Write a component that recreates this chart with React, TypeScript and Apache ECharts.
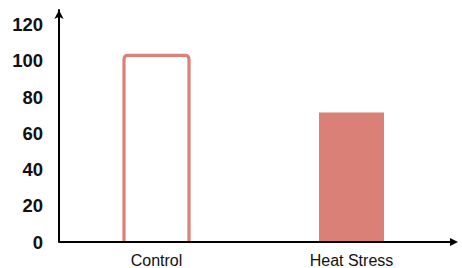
import React, { useEffect, useRef } from "react";
import * as echarts from "echarts";

const categories = ["Control", "Heat Stress"];
const values = [103, 71.5];
const yTicks = [0, 20, 40, 60, 80, 100, 120];

export default function App() {
  const ref = useRef<HTMLDivElement>(null);
  useEffect(() => {
    if (!ref.current) return;
    const chart = echarts.init(ref.current, null, { renderer: "svg" });
    const axisY = 242;
    const axisX = 59;
    const barW = 65;
    chart.setOption({
      animation: false,
      grid: { left: axisX, right: 13, top: 10, bottom: 268 - axisY },
      graphic: [
        { type: "line", shape: { x1: axisX, y1: axisY, x2: 452, y2: axisY }, style: { stroke: "#000", lineWidth: 2 }, z: 10 },
        { type: "polygon", shape: { points: [[450, axisY - 4], [458, axisY], [450, axisY + 4]] }, style: { fill: "#000" }, z: 10 },
      ],
      xAxis: {
        type: "category",
        data: categories,
        axisLine: { show: false },
        axisTick: { show: false },
        axisLabel: { color: "#111", fontSize: 16, fontFamily: "Liberation Sans, Arial, sans-serif", margin: 10 },
      },
      yAxis: {
        type: "value",
        min: 0,
        max: 128,
        interval: 20,
        axisLine: { show: true, lineStyle: { color: "#000", width: 2 }, symbol: ["none", "arrow"], symbolSize: [7, 9] },
        axisTick: { show: false },
        splitLine: { show: false },
        axisLabel: {
          color: "#111",
          fontSize: 18.5,
          fontWeight: "bold",
          fontFamily: "Liberation Sans, Arial, sans-serif",
          margin: 16,
          showMaxLabel: false,
          formatter: (v: number) => (yTicks.includes(v) ? String(v) : ""),
        },
      },
      series: [
        {
          type: "custom",
          data: values.map((v, i) => [i, v]),
          encode: { x: 0, y: 1 },
          renderItem: (params: any, api: any) => {
            const idx = api.value(0);
            const top = api.coord([idx, api.value(1)]);
            const base = api.coord([idx, 0]);
            const cx = top[0];
            const l = cx - barW / 2;
            const r = cx + barW / 2;
            const t = top[1];
            const b = base[1];
            if (idx === 0) {
              const rr = 4;
              const d = `M${l},${b + 1} L${l},${t + rr} Q${l},${t} ${l + rr},${t} L${r - rr},${t} Q${r},${t} ${r},${t + rr} L${r},${b + 1}`;
              return {
                type: "path",
                shape: { pathData: d },
                style: { fill: "none", stroke: "#e07f78", lineWidth: 3.2 },
              };
            }
            return {
              type: "rect",
              shape: { x: l, y: t, width: r - l, height: b - t },
              style: { fill: "#db8077" },
            };
          },
        },
      ],
    });
    return () => chart.dispose();
  }, []);
  return <div ref={ref} style={{ position: "absolute", left: 0, top: 0, width: 462, height: 268 }} />;
}
